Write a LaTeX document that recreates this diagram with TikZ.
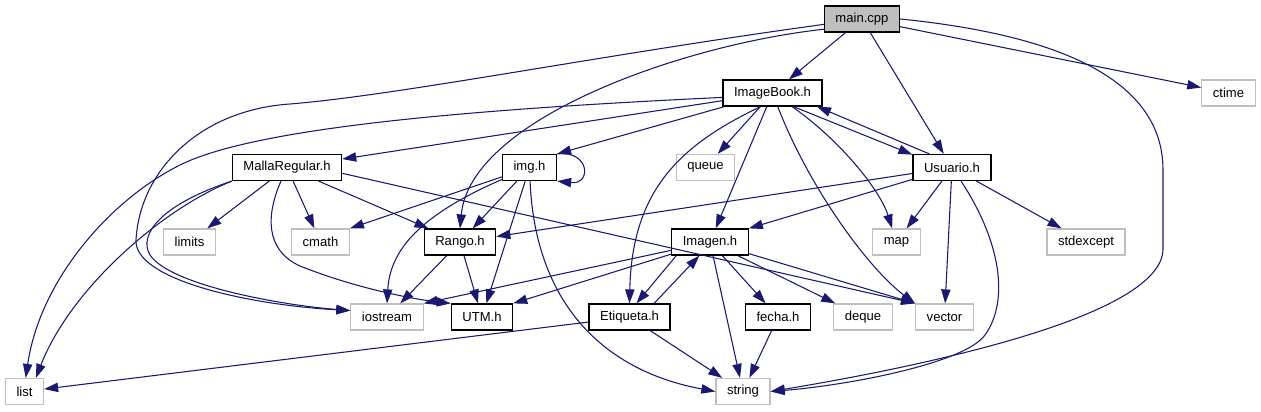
\documentclass[tikz,border=0pt]{standalone}
\usepackage{fontspec}
\setmainfont{Liberation Sans}
\usetikzlibrary{arrows.meta}
\definecolor{dox-edge}{HTML}{191970}
\definecolor{dox-gray}{HTML}{BFBFBF}

\begin{document}
\begin{tikzpicture}[
    x=0.75pt, y=-0.75pt,
    box/.style={draw=black, line width=0.9pt, fill=white, minimum height=19.5pt,
                inner xsep=8.3pt, inner ysep=0pt, font=\fontsize{9.8}{11}\selectfont},
    ext/.style={box, draw=dox-gray},
    arr/.style={-{Triangle[length=10.5pt,width=7pt]}, line width=0.8pt, dox-edge},
  ]
    \useasboundingbox (0,0) rectangle (1261,411);

    % Source file
    \node[box, fill=dox-gray] (main) at (862,19) {main.cpp};

    % Level 1
    \node[box] (imagebook) at (772.5,93) {ImageBook.h};
    \node[ext] (ctime) at (1228.5,93) {ctime};

    % Level 2
    \node[box] (malla)   at (287,167.5)   {MallaRegular.h};
    \node[box] (img)     at (529.5,167.5) {img.h};
    \node[ext] (queue)   at (705.5,167.5) {queue};
    \node[box] (usuario) at (952,167.5)   {Usuario.h};

    % Level 3
    \node[ext] (limits)    at (189.5,242) {limits};
    \node[ext] (cmath)     at (320.5,242) {cmath};
    \node[box] (rango)     at (460,242)   {Rango.h};
    \node[box] (imagen)    at (710,242)   {Imagen.h};
    \node[ext] (map)       at (896.5,242) {map};
    \node[ext] (stdexcept) at (1086,242)  {stdexcept};

    % Level 4
    \node[ext] (iostream) at (387,317)   {iostream};
    \node[box] (utm)      at (482,317)   {UTM.h};
    \node[box] (etiqueta) at (629.5,317) {Etiqueta.h};
    \node[box] (fecha)    at (778,317)   {fecha.h};
    \node[ext] (deque)    at (863,317)   {deque};
    \node[ext] (vector)   at (944.5,317) {vector};

    % Level 5
    \node[ext] (list)   at (24.5,391.5) {list};
    \node[ext] (string) at (743,391.5)  {string};

    % main.cpp
    \draw[arr] (main) -- (imagebook);
    \draw[arr] (main) -- (usuario);
    \draw[arr] (main) -- (ctime);
    \draw[arr] (main.east) .. controls (1060,35) and (1163,80) .. (1163,170)
        -- (1163,250) .. controls (1160,320) and (900,370) .. (string.east);
    \draw[arr] (main.195) .. controls (680,45) and (470,120) .. (rango.north);
    \draw[arr] (main.188) .. controls (600,55) and (400,95) .. (290,104)
        .. controls (200,110) and (140,170) .. (136,240)
        .. controls (134,280) and (250,305) .. (iostream.170);

    % ImageBook.h
    \draw[arr] (imagebook) -- (malla);
    \draw[arr] (imagebook) -- (img.north east);
    \draw[arr] (imagebook.185) .. controls (500,108) and (260,125) .. (180,165)
        .. controls (110,200) and (40,280) .. (list.85);
    \draw[arr] (imagebook) -- (queue);
    \draw[arr] (imagebook.-33) -- (usuario.162);
    \draw[arr] (imagebook) -- (imagen);
    \draw[arr] (imagebook.-131) .. controls (680,145) and (632,190) .. (etiqueta.north);
    \draw[arr] (imagebook) .. controls (840,140) and (880,190) .. (map);
    \draw[arr] (imagebook) .. controls (810,190) and (870,270) .. (vector.north west);

    % Usuario.h
    \draw[arr] (usuario.149) -- (imagebook.-17);
    \draw[arr] (usuario) -- (rango);
    \draw[arr] (usuario) -- (imagen.north east);
    \draw[arr] (usuario) -- (map);
    \draw[arr] (usuario) -- (vector);
    \draw[arr] (usuario) -- (stdexcept);
    \draw[arr] (usuario) .. controls (1000,240) and (1010,300) .. (985,335)
        .. controls (965,363) and (850,385) .. (string.east);

    % MallaRegular.h
    \draw[arr] (malla) -- (limits);
    \draw[arr] (malla) -- (cmath);
    \draw[arr] (malla) -- (rango);
    \draw[arr] (malla.-6) -- (vector.north west);
    \draw[arr] (malla.south west) .. controls (160,210) and (70,290) .. (list.50);
    \draw[arr] (malla.south west) .. controls (160,205) and (138,235) .. (150,255)
        .. controls (170,285) and (280,305) .. (iostream.170);
    \draw[arr] (malla) .. controls (266,215) and (265,250) .. (300,266)
        .. controls (360,290) and (420,300) .. (utm.north west);

    % img.h
    \draw[arr] (img.north east) .. controls (590,150) and (592,185) .. (img.south east);
    \draw[arr] (img) -- (cmath.north east);
    \draw[arr] (img) .. controls (420,215) and (390,250) .. (iostream.north);
    \draw[arr] (img) -- (rango);
    \draw[arr] (img) -- (utm);
    \draw[arr] (img) .. controls (535,300) and (600,370) .. (string.west);

    % Rango.h
    \draw[arr] (rango) -- (iostream);
    \draw[arr] (rango) -- (utm);

    % Imagen.h
    \draw[arr] (imagen) -- (iostream.north east);
    \draw[arr] (imagen) -- (utm.north east);
    \draw[arr] (imagen.-158) -- (etiqueta.63);
    \draw[arr] (etiqueta.29) -- (imagen.-128);
    \draw[arr] (imagen) -- (string);
    \draw[arr] (imagen) -- (fecha);
    \draw[arr] (imagen) -- (deque);
    \draw[arr] (imagen) -- (vector.north west);

    % Etiqueta.h, fecha.h
    \draw[arr] (etiqueta) -- (list);
    \draw[arr] (etiqueta) -- (string);
    \draw[arr] (fecha) -- (string);
  \end{tikzpicture}
\end{document}
